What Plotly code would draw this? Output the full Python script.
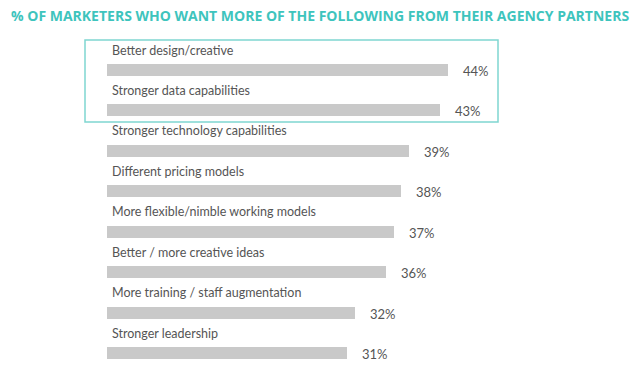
import plotly.graph_objects as go

categories = [
    "Better design/creative",
    "Stronger data capabilities",
    "Stronger technology capabilities",
    "Different pricing models",
    "More flexible/nimble working models",
    "Better / more creative ideas",
    "More training / staff augmentation",
    "Stronger leadership",
]
values = [44, 43, 39, 38, 37, 36, 32, 31]
value_labels = [f"{v}%" for v in values]
title_text = "% OF MARKETERS WHO WANT MORE OF THE FOLLOWING FROM THEIR AGENCY PARTNERS"

W, H = 640, 368
x0_px = 107.0
px_per_unit = 7.745
y0_px = 70.0
px_per_row = 40.43

positions = list(range(len(categories)))

fig = go.Figure()
fig.add_trace(go.Bar(
    x=values, y=positions, orientation="h",
    width=0.3, marker=dict(color="#c9c9c9", line=dict(width=0)),
    hoverinfo="skip", showlegend=False,
))

annotations = []
for i, (cat, v, lab) in enumerate(zip(categories, values, value_labels)):
    annotations.append(dict(
        x=0, y=i, xref="x", yref="y", text=cat, showarrow=False,
        xanchor="left", yanchor="middle", xshift=3, yshift=20,
        font=dict(family="Lato, Noto Sans, sans-serif", size=12.5, color="#555555"),
    ))
    annotations.append(dict(
        x=v, y=i, xref="x", yref="y", text=lab, showarrow=False,
        xanchor="left", yanchor="middle", xshift=13, yshift=-1,
        font=dict(family="Lato, Noto Sans, sans-serif", size=13, color="#555555"),
    ))
annotations.append(dict(
    x=0.5, y=1 - 15 / H, xref="paper", yref="paper", text="<b>" + title_text + "</b>",
    showarrow=False, xanchor="center", yanchor="middle",
    font=dict(family="Open Sans, sans-serif", size=14, color="#3ec4bd"),
))

xr = [-x0_px / px_per_unit, (W - x0_px) / px_per_unit]
yr = [(H - y0_px) / px_per_row, -y0_px / px_per_row]

def px_to_x(p):
    return (p - x0_px) / px_per_unit

def px_to_y(p):
    return (p - y0_px) / px_per_row

fig.add_shape(
    type="rect", xref="x", yref="y",
    x0=px_to_x(85), x1=px_to_x(498), y0=px_to_y(40), y1=px_to_y(122),
    line=dict(color="#7fd6d1", width=1.5), fillcolor="rgba(0,0,0,0)",
)

fig.update_layout(
    width=W, height=H, margin=dict(l=0, r=0, t=0, b=0),
    paper_bgcolor="white", plot_bgcolor="white",
    xaxis=dict(range=xr, visible=False, fixedrange=True),
    yaxis=dict(range=yr, visible=False, fixedrange=True),
    annotations=annotations, bargap=0,
)
fig.write_html(
    "out.html",
    config={"displayModeBar": False},
    post_script="document.body.style.margin='0';document.body.style.padding='0';",
)
